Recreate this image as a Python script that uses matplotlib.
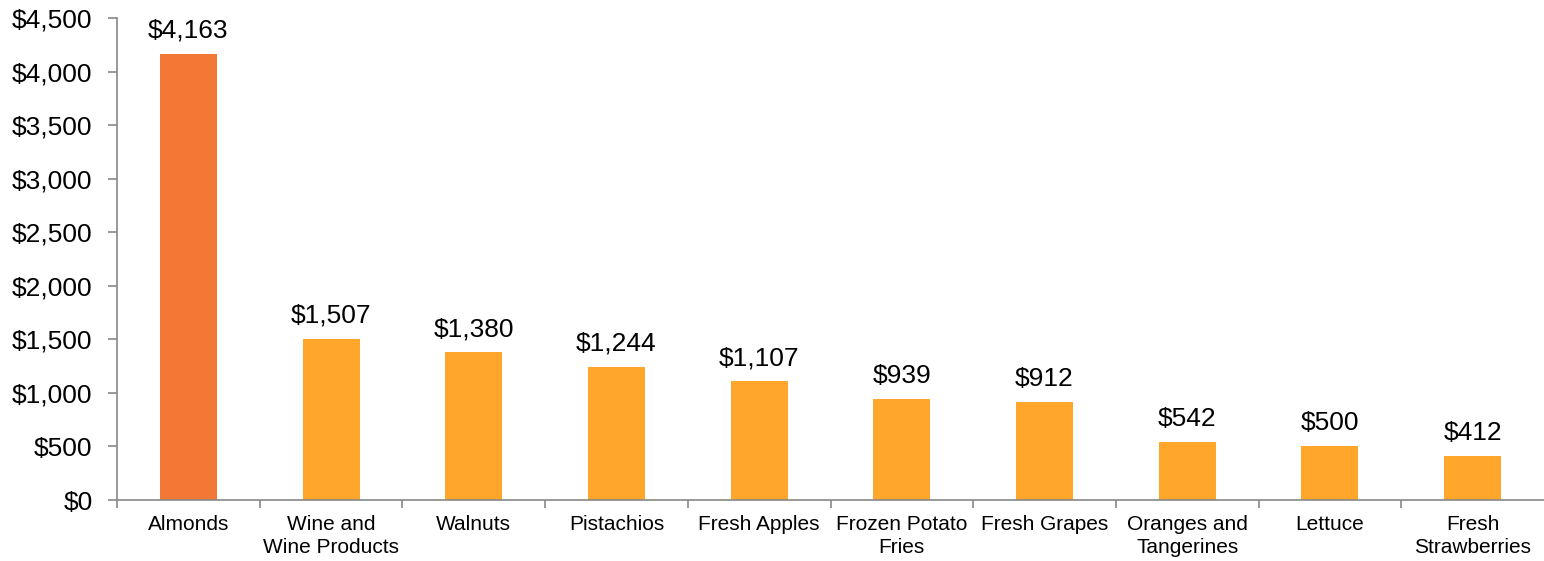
import numpy as np
import matplotlib.pyplot as plt
from matplotlib.ticker import FuncFormatter

CATEGORIES = ["Almonds", "Wine and\nWine Products", "Walnuts", "Pistachios",
              "Fresh Apples", "Frozen Potato\nFries", "Fresh Grapes",
              "Oranges and\nTangerines", "Lettuce", "Fresh\nStrawberries"]
VALUES = [4163, 1507, 1380, 1244, 1107, 939, 912, 542, 500, 412]
Y_TICKS = [0, 500, 1000, 1500, 2000, 2500, 3000, 3500, 4000, 4500]

plt.rcParams['font.family'] = ['Liberation Sans', 'DejaVu Sans']

fig = plt.figure(figsize=(15.44, 5.61), dpi=100)
ax = fig.add_axes([117 / 1544, 61 / 561, 1 - 117 / 1544, 482 / 561])

x = np.arange(len(CATEGORIES))
colors = ['#F37735'] + ['#FFA62B'] * (len(VALUES) - 1)
bars = ax.bar(x, VALUES, width=0.4, color=colors)

for xi, v in zip(x, VALUES):
    ax.annotate(f"${v:,}", (xi, v), xytext=(0, 8), textcoords='offset points',
                ha='center', va='bottom', fontsize=19)

ax.set_xlim(-0.5, len(CATEGORIES) - 0.5)
ax.set_ylim(0, 4500)
ax.set_yticks(Y_TICKS)
ax.yaxis.set_major_formatter(FuncFormatter(lambda v, p: f"${v:,.0f}"))

ax.set_xticks(x)
ax.set_xticklabels(CATEGORIES, fontsize=15, linespacing=1.25)
ax.set_xticks(np.arange(len(CATEGORIES)) - 0.5, minor=True)
ax.tick_params(axis='x', which='major', length=0, pad=11)
ax.tick_params(axis='x', which='minor', length=6, color='#888888', width=1.2)
ax.tick_params(axis='y', length=6.5, color='#888888', width=1.2, labelsize=19, pad=11)

for s in ['top', 'right']:
    ax.spines[s].set_visible(False)
for s in ['left', 'bottom']:
    ax.spines[s].set_color('#888888')
    ax.spines[s].set_linewidth(1.2)

fig.savefig("out.png", dpi=100)
